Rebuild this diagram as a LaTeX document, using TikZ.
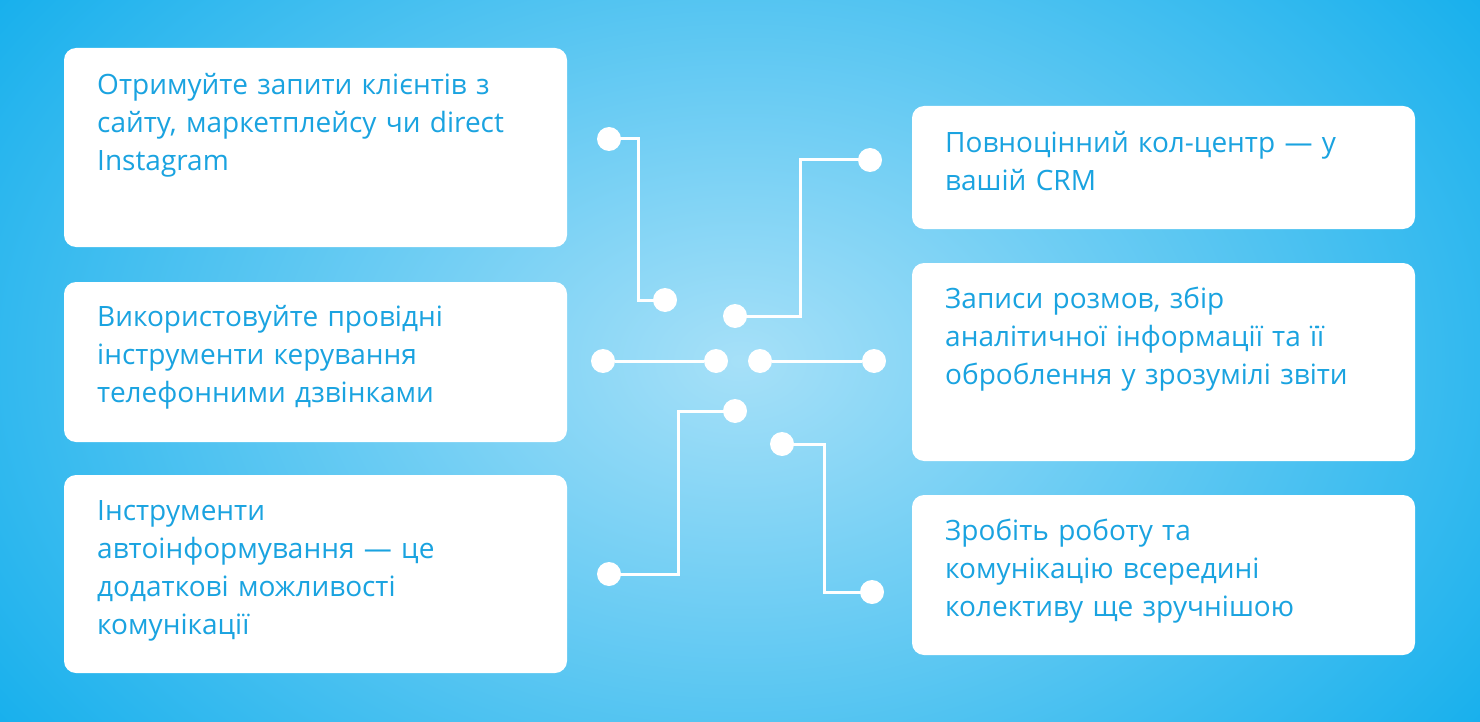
\documentclass[tikz,border=0pt]{standalone}
\usepackage{fontspec}
\setmainfont{Open Sans}
\definecolor{txt}{HTML}{1AA3E0}
\definecolor{bgin}{HTML}{A6E0F8}
\definecolor{bgout}{HTML}{12AEEC}
\begin{document}
\begin{tikzpicture}[x=1pt,y=-1pt,
  card/.style={fill=white,rounded corners=12pt,draw=none},
  lbl/.style={anchor=north west,inner sep=0pt,text width=420pt,align=left,text=txt,font=\fontsize{28}{38}\selectfont},
  dot/.style={circle,fill=white,minimum size=24pt,inner sep=0pt},
  wire/.style={draw=white,line width=3pt}]
\useasboundingbox (0,0) rectangle (1480,722);
\shade[inner color=bgin,outer color=bgout] (-200,-300) rectangle (1680,1022);
% cards
\fill[card] (64,48) rectangle (567,247);
\fill[card] (64,282) rectangle (567,442);
\fill[card] (64,475) rectangle (567,673);
\fill[card] (912,106) rectangle (1415,229);
\fill[card] (912,263) rectangle (1415,461);
\fill[card] (912,495) rectangle (1415,655);
\node[lbl] (t1) at (97,73) {Отримуйте запити клієнтів з сайту, маркетплейсу чи direct Instagram};
\node[lbl] (t2) at (97,305) {Використовуйте провідні інструменти керування телефонними дзвінками};
\node[lbl] (t3) at (97,500) {Інструменти автоінформування — це додаткові можливості комунікації};
\node[lbl] (t4) at (945,131) {Повноцінний кол-центр — у вашій CRM};
\node[lbl] (t5) at (945,287) {Записи розмов, збір аналітичної інформації та її оброблення у зрозумілі звіти};
\node[lbl] (t6) at (945,519) {Зробіть роботу та комунікацію всередині колективу ще зручнішою};
% dots
\node[dot] (a1) at (609,139) {}; \node[dot] (a2) at (665,300) {};
\node[dot] (b1) at (735,316) {}; \node[dot] (b2) at (870,160) {};
\node[dot] (c1) at (603,361) {}; \node[dot] (c2) at (716,361) {};
\node[dot] (d1) at (760,361) {}; \node[dot] (d2) at (874,361) {};
\node[dot] (e1) at (735,411) {}; \node[dot] (e2) at (609,574) {};
\node[dot] (f1) at (782,444) {}; \node[dot] (f2) at (872,592) {};
\path[wire] (a1.center) -- (638,139) -- (638,300) -- (a2.center);
\path[wire] (b1.center) -- (800,316) -- (800,160) -- (b2.center);
\path[wire] (c1) -- (c2);
\path[wire] (d1) -- (d2);
\path[wire] (e1.center) -- (678,411) -- (678,574) -- (e2.center);
\path[wire] (f1.center) -- (824,444) -- (824,592) -- (f2.center);
\end{tikzpicture}
\end{document}
